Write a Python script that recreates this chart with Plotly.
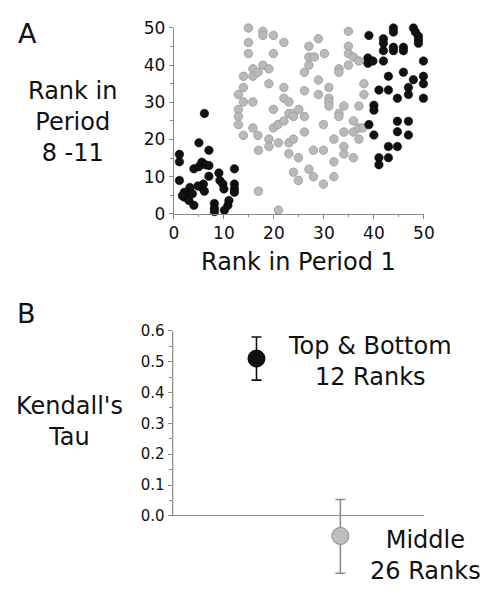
import plotly.graph_objects as go

# ---------------- Panel A data: rank in period 1 vs rank in period 8-11 ----------------
black_x = [6.1, 1.1, 1.1, 5.0, 7.0, 1.1, 4.0, 5.0, 5.6, 6.3, 7.0, 7.0, 9.0, 9.2, 9.8, 10.0,
           12.1, 12.1, 12.1, 12.1, 5.9, 5.6, 6.1, 4.8, 3.2, 2.1, 2.1, 2.7, 3.0, 4.0, 1.7, 3.7,
           8.1, 8.1, 8.1, 10.1, 10.8, 11.0,
           39.0, 41.9, 41.9, 41.9, 43.9, 43.9, 43.9, 43.9, 45.9, 45.9, 47.9, 48.3, 48.9, 48.9,
           48.9, 38.8, 38.8, 39.8, 41.9, 49.9, 42.9, 45.9, 47.9, 49.9, 49.9, 41.0, 42.9, 44.7,
           46.9, 46.9, 49.9, 40.0, 40.0, 39.0, 40.0, 44.7, 46.9, 44.7, 46.9, 42.9, 44.7, 41.0,
           42.9, 41.0]
black_y = [27.0, 16.0, 14.0, 19.1, 17.1, 9.0, 12.1, 12.7, 13.9, 13.2, 13.0, 10.1, 11.0, 9.0, 8.0, 6.7,
           12.1, 8.0, 6.7, 5.8, 8.0, 7.1, 6.1, 7.5, 7.1, 5.8, 4.5, 4.9, 3.6, 2.3, 4.9, 5.4,
           2.8, 1.5, 0.6, 1.0, 2.3, 3.6,
           48.0, 47.1, 45.9, 43.9, 50.0, 48.9, 44.8, 43.9, 44.8, 43.9, 50.0, 48.9, 47.8, 46.8,
           45.9, 41.9, 40.5, 41.1, 41.1, 41.1, 37.0, 38.1, 36.1, 37.0, 35.0, 33.3, 33.3, 31.1,
           34.0, 32.1, 31.1, 29.2, 27.9, 24.0, 21.2, 24.9, 24.9, 22.1, 21.2, 18.1, 18.1, 15.1,
           15.1, 13.2]

gray_x = [14.9, 14.9, 14.9, 17.8, 17.8, 19.9, 22.0, 19.9, 13.9, 13.9, 12.9, 13.9, 12.9, 12.9,
          12.9, 13.9, 15.8, 15.8, 16.8, 17.8, 19.0, 19.0, 15.8, 15.8, 16.8, 16.9, 19.0, 19.0,
          19.9, 19.9, 20.8, 20.9, 22.0, 22.0, 23.0, 22.0, 23.0, 23.9, 23.9, 25.0, 26.1, 23.0,
          23.9, 23.0, 24.9, 26.1, 23.9, 24.9, 26.1, 26.1, 27.0, 27.0, 27.0, 28.1, 28.9, 30.1,
          28.9, 28.9, 27.9, 27.0, 27.9, 29.9, 29.9, 29.9, 31.0, 31.0, 31.0, 31.0, 32.0, 32.0,
          32.0, 33.0, 33.0, 33.0, 33.0, 34.0, 34.0, 34.0, 34.0, 34.9, 34.9, 34.9, 34.9, 35.9,
          35.9, 35.9, 35.9, 37.0, 37.0, 37.0, 37.0, 38.0, 38.0, 37.8, 16.9, 20.9]
gray_y = [50.0, 46.1, 43.1, 49.1, 48.0, 48.0, 46.1, 43.1, 37.0, 34.0, 32.1, 30.1, 28.1, 26.2,
          24.0, 21.1, 39.0, 37.0, 38.1, 40.0, 39.0, 35.0, 30.1, 23.1, 21.1, 17.1, 20.1, 18.1,
          28.1, 23.1, 24.0, 19.1, 34.0, 31.1, 30.1, 25.0, 27.0, 27.0, 26.2, 28.1, 26.2, 19.1,
          20.1, 16.2, 15.1, 22.0, 11.2, 9.0, 33.1, 38.1, 40.0, 42.2, 45.1, 42.2, 47.1, 43.1,
          36.0, 32.1, 17.1, 12.0, 10.0, 17.1, 24.0, 8.0, 34.0, 31.1, 30.1, 29.0, 20.1, 14.0,
          10.0, 39.0, 38.1, 27.0, 26.2, 29.0, 22.0, 18.1, 16.1, 49.1, 45.1, 43.1, 40.0, 42.2,
          25.0, 22.0, 15.1, 41.1, 29.0, 23.1, 20.1, 35.0, 32.1, 23.1, 6.1, 1.0]

rank_ticks = [0, 10, 20, 30, 40, 50]

# ---------------- Panel B data: Kendall's tau ----------------
groups = ["Top & Bottom<br>12 Ranks", "Middle<br>26 Ranks"]
group_pos = [1, 2]
tau = [0.51, -0.065]
tau_err_plus = [0.07, 0.118]
tau_err_minus = [0.07, 0.121]
tau_ticks = [0.0, 0.1, 0.2, 0.3, 0.4, 0.5, 0.6]
tau_minor = [0.05, 0.15, 0.25, 0.35, 0.45, 0.55]

W, H = 493, 592
OFF = 8  # page body margin: the figure is drawn 8 px right and down
FONT = "DejaVu Sans"
AX = "#8a8a8a"


def px(x):
    return (x - OFF) / W


def py(y):
    return 1 - (y - OFF) / H


fig = go.Figure()

fig.add_trace(go.Scatter(
    x=gray_x, y=gray_y, mode="markers", cliponaxis=False,
    marker=dict(size=8.5, color="#b9b9b9", line=dict(color="#9a9a9a", width=0.8)),
    xaxis="x", yaxis="y"))
fig.add_trace(go.Scatter(
    x=black_x, y=black_y, mode="markers", cliponaxis=False,
    marker=dict(size=8.5, color="#111111", line=dict(color="#000000", width=0.5)),
    xaxis="x", yaxis="y"))

for i, col, fill, lc in [(0, "#111111", "#111111", "#000000"), (1, "#8a8a8a", "#bdbdbd", "#8a8a8a")]:
    fig.add_trace(go.Scatter(
        x=[group_pos[i]], y=[tau[i]], mode="markers", cliponaxis=False,
        marker=dict(size=17, color=fill, line=dict(color=lc, width=1)),
        error_y=dict(type="data", symmetric=False, array=[tau_err_plus[i]],
                     arrayminus=[tau_err_minus[i]], color=col, thickness=1.6, width=5),
        xaxis="x2", yaxis="y2"))

common_tick = dict(ticks="outside", tickcolor=AX, tickwidth=1, showgrid=False,
                   tickfont=dict(family=FONT, size=17, color="#111"))

fig.update_layout(
    width=W, height=H, margin=dict(l=0, r=0, t=0, b=0),
    paper_bgcolor="white", plot_bgcolor="white", showlegend=False,
    font=dict(family=FONT, color="#111"),
    xaxis=dict(domain=[px(174.3), px(432.7)], range=[0, 50], tickvals=rank_ticks,
               showline=True, linecolor=AX, linewidth=1.2, zeroline=False, ticklen=4,
               minor=dict(dtick=5, ticks="outside", ticklen=2.5, tickcolor=AX),
               anchor="y", **common_tick),
    yaxis=dict(domain=[py(210.7), py(18.3)], range=[0, 50], tickvals=rank_ticks,
               showline=True, linecolor=AX, linewidth=1.2, zeroline=False, ticklen=4,
               minor=dict(dtick=5, ticks="outside", ticklen=2.5, tickcolor=AX),
               anchor="x", **common_tick),
    xaxis2=dict(domain=[px(173), px(433)], range=[0, 3], visible=False, anchor="y2"),
    yaxis2=dict(domain=[py(587.2), py(331.7)], range=[-0.2, 0.6], tickvals=tau_ticks,
                ticktext=["%.1f" % t for t in tau_ticks], showline=False,
                zeroline=True, zerolinecolor=AX, zerolinewidth=1.3, ticklen=4,
                ticks="outside", tickcolor=AX, showgrid=False,
                tickfont=dict(family=FONT, size=15, color="#111"),
                minor=dict(tickvals=tau_minor, ticks="outside", ticklen=2.5, tickcolor=AX),
                anchor="x2"),
)

fig.add_shape(type="line", xref="x2 domain", yref="y2", x0=0, x1=0, y0=0, y1=0.6,
              line=dict(color=AX, width=1.2))


def label(text, x, y, size):
    fig.add_annotation(text=text, x=px(x), y=py(y), xref="paper", yref="paper",
                       showarrow=False, xanchor="center", yanchor="middle",
                       font=dict(family=FONT, size=size, color="#111"))


label("A", 23, 24, 27)
label("B", 22, 314, 27)
label("Rank in<br>Period<br>8 -11", 70, 116, 24)
label("Rank in Period 1", 303, 261, 24)
label("Kendall's<br>Tau", 66, 426, 24)
label(groups[0], 377, 363, 24)
label(groups[1], 434, 564, 24)

fig.write_html("out.html")
